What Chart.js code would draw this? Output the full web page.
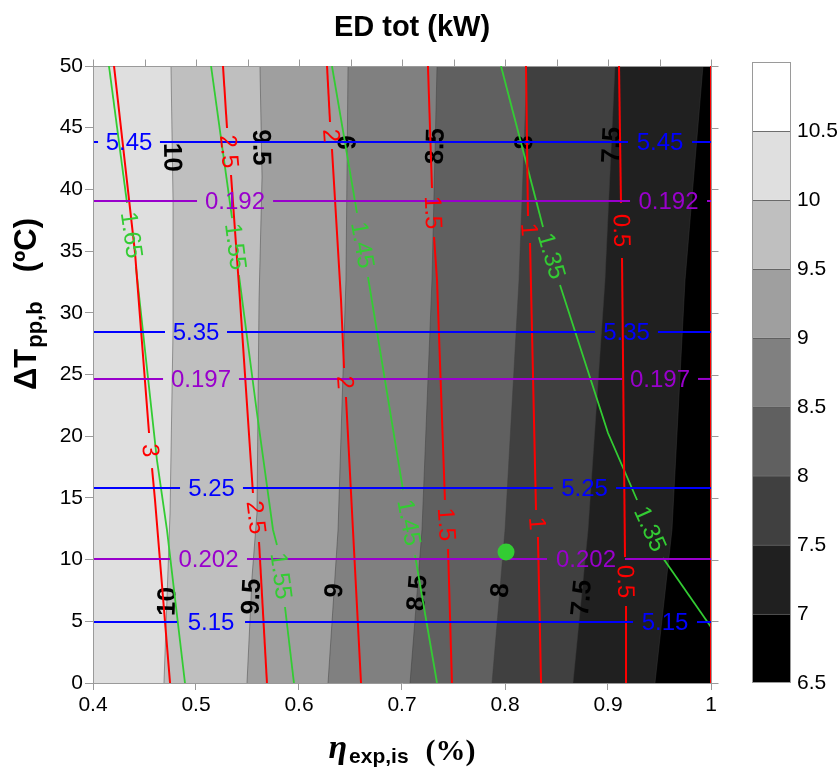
<!DOCTYPE html>
<html lang="es">
<head>
<meta charset="utf-8">
<title>ED tot (kW)</title>
<script src="https://cdn.jsdelivr.net/npm/chart.js@4.4.1/dist/chart.umd.min.js"></script>
<style>
  html, body { margin: 0; padding: 0; background: #ffffff; }
  #box { position: relative; width: 839px; height: 777px; }
</style>
</head>
<body>
<div id="box"><canvas id="ed"></canvas></div>
<script>
// ---- ED tot (kW): filled contour levels and their grey shades, low to high ----
const edLevels = [6.5, 7, 7.5, 8, 8.5, 9, 9.5, 10, 10.5, 11];
const edShades = ['#000000', '#202020', '#404040', '#606060', '#808080',
                  '#9f9f9f', '#bfbfbf', '#dfdfdf', '#ffffff'];
const cbTickValues = [6.5, 7, 7.5, 8, 8.5, 9, 9.5, 10, 10.5];

// ED tot band boundaries, points [eta_exp,is, dT_pp,b] from dT = 0 up to 50
const ed10  = [[0.4689, 0], [0.4748, 13.78], [0.4777, 28.61], [0.4777, 39.14], [0.4757, 50]];
const ed95  = [[0.5495, 0], [0.5544, 8.59], [0.5592, 13.78], [0.5612, 31.04], [0.5641, 41.00], [0.5621, 50]];
const ed9   = [[0.6282, 0], [0.6379, 12.40], [0.6456, 32.66], [0.6476, 50]];
const ed85  = [[0.7078, 0], [0.7194, 12.40], [0.7291, 32.66], [0.7340, 50]];
const ed8   = [[0.7874, 0], [0.8000, 12.40], [0.8136, 32.66], [0.8214, 50]];
const ed75  = [[0.8660, 0], [0.8806, 12.40], [0.8971, 32.66], [0.9068, 50]];
const ed7   = [[0.9456, 0], [0.9621, 12.40], [0.9748, 32.66], [0.9922, 50]];
const edBoundLevels = [10, 9.5, 9, 8.5, 8, 7.5, 7];
const edBoundLines  = [ed10, ed95, ed9, ed85, ed8, ed75, ed7];
// dT positions where each ED tot level is written on its boundary
const edLabelDT = [[42.6, 6.6], [43.4, 7.0], [43.8, 7.5], [43.5, 7.3], [43.8, 7.5], [43.6, 6.9], []];

// red contours; each line is split into runs, its level is written in every break
const red3  = [[[0.4204, 50], [0.4408, 34.85], [0.4544, 20.26]],
               [[0.4573, 17.42], [0.4602, 14.83], [0.4748, 0]]];
const red25 = [[[0.5262, 50], [0.5301, 44.98]],
               [[0.5340, 41.17], [0.5427, 31.04], [0.5553, 15.40]],
               [[0.5612, 11.43], [0.5689, 0]]];
const red2  = [[[0.6272, 50], [0.6301, 45.46]],
               [[0.6320, 43.27], [0.6408, 31.04], [0.6437, 25.53]],
               [[0.6456, 23.18], [0.6524, 12.40], [0.6602, 0]]];
const red15 = [[[0.7252, 50], [0.7291, 40.11]],
               [[0.7311, 36.14], [0.7340, 32.66], [0.7417, 14.83]],
               [[0.7447, 10.86], [0.7485, 0]]];
const red1  = [[[0.8204, 50], [0.8223, 37.84]],
               [[0.8243, 35.66], [0.8301, 14.02]],
               [[0.8320, 11.83], [0.8350, 0]]];
const red05 = [[[0.9107, 50], [0.9126, 38.90]],
               [[0.9136, 34.44], [0.9165, 10.21]],
               [[0.9175, 6.24], [0.9175, 0]]];
const red0  = [[[1.0, 50], [1.0, 0]]];
const redLevels = [3, 2.5, 2, 1.5, 1, 0.5, 0];
const redLines  = [red3, red25, red2, red15, red1, red05, red0];

// green contours
const green165 = [[[0.4155, 50], [0.4330, 38.90]],
                  [[0.4417, 33.71], [0.4621, 18.07], [0.4718, 12.40], [0.4893, 0]]];
const green155 = [[[0.5146, 50], [0.5350, 37.68]],
                  [[0.5417, 33.06], [0.5592, 21.88], [0.5748, 12.40], [0.5786, 11.18]],
                  [[0.5864, 6.16], [0.5951, 0]]];
const green145 = [[[0.6320, 50], [0.6563, 38.09]],
                  [[0.6670, 32.90], [0.7010, 15.64]],
                  [[0.7126, 10.37], [0.7340, 0]]];
const green135 = [[[0.7961, 50], [0.8369, 36.95]],
                  [[0.8534, 32.25], [0.9000, 20.26], [0.9282, 14.83]],
                  [[0.9534, 10.13], [1.0, 4.54]]];
const greenLevels = [1.65, 1.55, 1.45, 1.35];
const greenLines  = [green165, green155, green145, green135];

// blue contours (horizontal)
const blue545 = [[[0.4, 43.84], [0.4049, 43.84]], [[0.4650, 43.84], [0.9194, 43.84]], [[0.9816, 43.84], [1.0, 43.84]]];
const blue535 = [[[0.4, 28.44], [0.4699, 28.44]], [[0.5301, 28.44], [0.8874, 28.44]], [[0.9485, 28.44], [1.0, 28.44]]];
const blue525 = [[[0.4, 15.80], [0.4845, 15.80]], [[0.5456, 15.80], [0.8466, 15.80]], [[0.9078, 15.80], [1.0, 15.80]]];
const blue515 = [[[0.4, 4.94], [0.4816, 4.94]], [[0.5476, 4.94], [0.9243, 4.94]], [[0.9864, 4.94], [1.0, 4.94]]];
const blueLevels = [5.45, 5.35, 5.25, 5.15];
const blueLines  = [blue545, blue535, blue525, blue515];

// purple contours (horizontal)
const purple192 = [[[0.4, 39.06], [0.5010, 39.06]], [[0.5748, 39.06], [0.9214, 39.06]], [[0.9961, 39.06], [1.0, 39.06]]];
const purple197 = [[[0.4, 24.64], [0.4680, 24.64]], [[0.5417, 24.64], [0.9136, 24.64]], [[0.9874, 24.64], [1.0, 24.64]]];
const purple202 = [[[0.4, 10.05], [0.4748, 10.05]], [[0.5495, 10.05], [0.8408, 10.05]], [[0.9165, 10.05], [1.0, 10.05]]];
const purpleLevels = [0.192, 0.197, 0.202];
const purpleLines  = [purple192, purple197, purple202];

// design point
const designPoint = [[0.801, 10.62]];

// axis ticks
const xTickStep = 0.1;
const yTickStep = 5;
const topTickValues = [0.4, 0.45, 0.5, 0.55, 0.6, 0.65, 0.7, 0.75, 0.8, 0.85, 0.9, 0.95, 1.0];

// ---- styling ----
const SANS = '"Liberation Sans", Arial, Helvetica, sans-serif';
const SERIF = '"Liberation Serif", "Times New Roman", Times, serif';
const AXIS_GREY = '#9a9a9a';
const RED = '#ff0000', GREEN = '#33cc33', BLUE = '#0000ff', PURPLE = '#9900cc';
const LABEL_FONT = `24px ${SANS}`;
const ED_LABEL_FONT = `bold 26px ${SANS}`;

const toXY = pts => pts.map(([x, y]) => ({ x, y }));

const datasets = [];
let lastBandIndex = -1;

// filled bands: every boundary shades the region on its right with the band just below its level
edBoundLines.forEach((pts, k) => {
  const idx = edLevels.indexOf(edBoundLevels[k]);
  datasets.push({
    type: 'line', indexAxis: 'y', xAxisID: 'x', yAxisID: 'y',
    data: toXY(pts),
    borderColor: 'rgba(60,60,60,0.45)', borderWidth: 1,
    backgroundColor: edShades[idx - 1],
    fill: { value: 1.0 },
    pointRadius: 0, tension: 0,
    order: 200 - k
  });
  lastBandIndex = datasets.length - 1;
});

function addRuns(lines, color, width, order) {
  lines.forEach(runs => runs.forEach(run => datasets.push({
    type: 'line', xAxisID: 'x', yAxisID: 'y',
    data: toXY(run), borderColor: color, borderWidth: width,
    pointRadius: 0, fill: false, tension: 0, order
  })));
}
addRuns(greenLines, GREEN, 1.8, 40);
addRuns(redLines, RED, 2, 30);
addRuns(purpleLines, PURPLE, 2, 20);
addRuns(blueLines, BLUE, 2, 10);

datasets.push({
  type: 'line', xAxisID: 'x', yAxisID: 'y',
  data: toXY(designPoint), showLine: false,
  pointRadius: 8.5, pointBackgroundColor: GREEN, pointBorderColor: GREEN, pointBorderWidth: 0,
  order: 0
});

// ---- drawing helpers ----
function px(chart, p) {
  return { x: chart.scales.x.getPixelForValue(p[0]), y: chart.scales.y.getPixelForValue(p[1]) };
}
// text angle along a-b, turned so the text never reads upside down
function upright(a, b) {
  let ang = Math.atan2(b.y - a.y, b.x - a.x);
  if (ang > Math.PI / 2) ang -= Math.PI;
  if (ang < -Math.PI / 2) ang += Math.PI;
  return ang;
}
function drawText(ctx, text, x, y, ang, font, color) {
  ctx.save();
  ctx.translate(x, y);
  ctx.rotate(ang);
  ctx.font = font;
  ctx.fillStyle = color;
  ctx.textAlign = 'center';
  ctx.textBaseline = 'middle';
  ctx.fillText(text, 0, 1);
  ctx.restore();
}
function gapLabels(chart, lines, levels, color) {
  const ctx = chart.ctx;
  lines.forEach((runs, li) => {
    for (let i = 0; i + 1 < runs.length; i++) {
      const a = px(chart, runs[i][runs[i].length - 1]);
      const b = px(chart, runs[i + 1][0]);
      drawText(ctx, String(levels[li]), (a.x + b.x) / 2, (a.y + b.y) / 2, upright(a, b), LABEL_FONT, color);
    }
  });
}
function boundaryAt(pts, yv) {
  for (let i = 0; i + 1 < pts.length; i++) {
    const [x0, y0] = pts[i], [x1, y1] = pts[i + 1];
    if ((y0 - yv) * (y1 - yv) <= 0 && y1 !== y0) {
      const t = (yv - y0) / (y1 - y0);
      return { p: [x0 + t * (x1 - x0), yv], a: pts[i], b: pts[i + 1] };
    }
  }
  return null;
}

const edPlot = {
  id: 'edPlot',
  beforeDatasetsDraw(chart) {
    // region left of the 10 kW boundary: band 10 - 10.5
    const { ctx, chartArea: A } = chart;
    ctx.save();
    ctx.fillStyle = edShades[edLevels.indexOf(10)];
    ctx.fillRect(A.left, A.top, A.right - A.left, A.bottom - A.top);
    ctx.restore();
  },
  afterDatasetDraw(chart, args) {
    if (args.index !== lastBandIndex) return;
    const { ctx, chartArea: A } = chart;
    // ED tot level labels on the band boundaries
    edBoundLines.forEach((pts, k) => {
      edLabelDT[k].forEach(yv => {
        const hit = boundaryAt(pts, yv);
        if (!hit) return;
        const c = px(chart, hit.p);
        const ang = upright(px(chart, hit.b), px(chart, hit.a));
        drawText(ctx, String(edBoundLevels[k]), c.x, c.y, ang, ED_LABEL_FONT, '#000');
      });
    });
    // top and right box edges with outward ticks
    ctx.save();
    ctx.strokeStyle = AXIS_GREY;
    ctx.lineWidth = 1;
    ctx.beginPath();
    const top = Math.round(A.top) + 0.5, right = Math.round(A.right) + 0.5;
    ctx.moveTo(A.left, top); ctx.lineTo(right, top); ctx.lineTo(right, A.bottom);
    topTickValues.forEach(v => {
      const x = Math.round(chart.scales.x.getPixelForValue(v)) + 0.5;
      ctx.moveTo(x, top); ctx.lineTo(x, top - 7);
    });
    chart.scales.y.ticks.forEach(t => {
      const y = Math.round(chart.scales.y.getPixelForValue(t.value)) + 0.5;
      ctx.moveTo(right, y); ctx.lineTo(right + 7, y);
    });
    ctx.stroke();
    ctx.restore();
  },
  afterDatasetsDraw(chart) {
    gapLabels(chart, greenLines, greenLevels, GREEN);
    gapLabels(chart, redLines, redLevels, RED);
    gapLabels(chart, purpleLines, purpleLevels, PURPLE);
    gapLabels(chart, blueLines, blueLevels, BLUE);
  },
  afterDraw(chart) {
    const { ctx, chartArea: A } = chart;
    ctx.save();
    // title
    ctx.fillStyle = '#000';
    ctx.font = `bold 29px ${SANS}`;
    ctx.textAlign = 'center';
    ctx.textBaseline = 'alphabetic';
    ctx.fillText('ED tot (kW)', 412, 36);

    // x axis title: eta_exp,is (%)
    ctx.textAlign = 'left';
    const fEta = `italic bold 34px ${SERIF}`, fSubX = `bold 21px ${SANS}`, fPct = `bold 30px ${SERIF}`;
    ctx.font = fEta; const wEta = ctx.measureText('η').width;
    ctx.font = fSubX; const wSubX = ctx.measureText('exp,is').width;
    ctx.font = fPct; const wPct = ctx.measureText('(%)').width;
    const gapX = 17;
    let x = (A.left + A.right) / 2 - (wEta + 2 + wSubX + gapX + wPct) / 2;
    ctx.font = fEta; ctx.fillText('η', x, 758); x += wEta + 2;
    ctx.font = fSubX; ctx.fillText('exp,is', x, 763); x += wSubX + gapX;
    ctx.font = fPct; ctx.fillText('(%)', x, 760);

    // y axis title: dT_pp,b (ºC)
    ctx.save();
    ctx.translate(36, 304);
    ctx.rotate(-Math.PI / 2);
    const fMain = `bold 31px ${SANS}`, fSubY = `bold 22px ${SANS}`;
    ctx.font = fMain; const w1 = ctx.measureText('ΔT').width;
    ctx.font = fSubY; const w2 = ctx.measureText('pp,b').width;
    ctx.font = fMain; const w3 = ctx.measureText('(ºC)').width;
    const gapY = 30;
    let t = -(w1 + w2 + gapY + w3) / 2;
    ctx.font = fMain; ctx.fillText('ΔT', t, 0); t += w1;
    ctx.font = fSubY; ctx.fillText('pp,b', t + 1, 6); t += w2 + gapY;
    ctx.font = fMain; ctx.fillText('(ºC)', t, 0);
    ctx.restore();

    // colorbar, laid on the cb scale
    const cb = chart.scales.cb;
    const left = cb.left + 41, w = 39;
    for (let i = 0; i < edShades.length; i++) {
      const y0 = cb.getPixelForValue(edLevels[i]);
      const y1 = cb.getPixelForValue(edLevels[i + 1]);
      ctx.fillStyle = edShades[i];
      ctx.fillRect(left, y1, w, y0 - y1);
    }
    ctx.strokeStyle = 'rgba(90,90,90,0.85)';
    ctx.lineWidth = 1;
    ctx.beginPath();
    for (let i = 1; i < edLevels.length - 1; i++) {
      const y = Math.round(cb.getPixelForValue(edLevels[i])) + 0.5;
      ctx.moveTo(left, y); ctx.lineTo(left + w, y);
    }
    ctx.stroke();
    const yt = Math.round(cb.getPixelForValue(edLevels[edLevels.length - 1])) + 0.5;
    const yb = Math.round(cb.getPixelForValue(edLevels[0])) - 0.5;
    ctx.strokeStyle = AXIS_GREY;
    ctx.strokeRect(left + 0.5, yt, w - 1, yb - yt);
    ctx.restore();
  }
};

const tickFont = { family: SANS, size: 21 };
const fmt = v => String(Number(Number(v).toFixed(3)));

new Chart(document.getElementById('ed'), {
  type: 'line',
  data: { datasets },
  options: {
    indexAxis: 'y',
    responsive: true,
    maintainAspectRatio: false,
    devicePixelRatio: 1,
    animation: false,
    events: [],
    layout: { padding: { top: 66, left: 0, right: 0, bottom: 0 } },
    plugins: { legend: { display: false }, tooltip: { enabled: false }, title: { display: false } },
    scales: {
      x: {
        type: 'linear', position: 'bottom', min: 0.4, max: 1.0,
        ticks: { stepSize: xTickStep, color: '#000', font: tickFont, padding: 3, maxRotation: 0, callback: fmt },
        grid: { display: true, drawOnChartArea: false, drawTicks: true, tickLength: 7, color: AXIS_GREY },
        border: { display: true, color: AXIS_GREY, z: 1 },
        afterFit: s => { s.height = 94; }
      },
      y: {
        type: 'linear', position: 'left', min: 0, max: 50,
        ticks: { stepSize: yTickStep, color: '#000', font: tickFont, padding: 2, callback: fmt },
        grid: { display: true, drawOnChartArea: false, drawTicks: true, tickLength: 8, color: AXIS_GREY },
        border: { display: true, color: AXIS_GREY, z: 1 },
        afterFit: s => { s.width = 93; }
      },
      cb: {
        type: 'linear', position: 'right', axis: 'y', min: 6.5, max: 10.97,
        afterBuildTicks: s => { s.ticks = cbTickValues.map(v => ({ value: v })); },
        ticks: { color: '#000', font: tickFont, padding: 86, callback: fmt },
        grid: { display: false, drawTicks: false },
        border: { display: false },
        afterFit: s => { s.width = 128; s.paddingTop = 0; s.paddingBottom = 0; }
      }
    }
  },
  plugins: [edPlot]
});
</script>
</body>
</html>
